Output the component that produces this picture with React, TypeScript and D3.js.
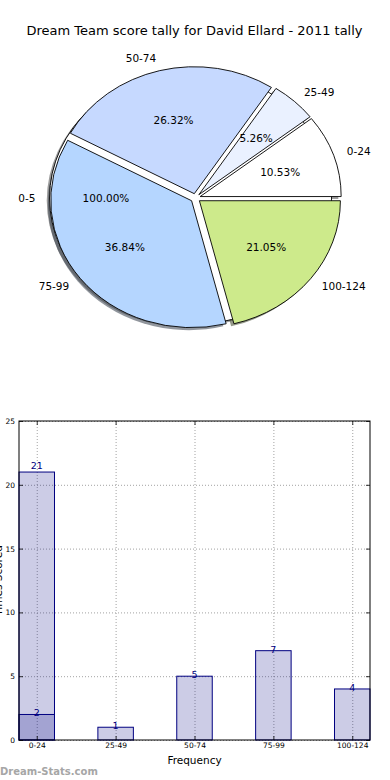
import { useEffect, useRef } from 'react'
import * as d3 from 'd3'

const title = 'Dream Team score tally for David Ellard - 2011 tally'
const categories = ['0-24', '25-49', '50-74', '75-99', '100-124']
const counts = [2, 1, 5, 7, 4]
const sliceColors = ['#ffffff', '#eaf1ff', '#c6d9ff', '#b5d6ff', '#cdea8b']
const fullPieLabels = ['0-5']
const fullPieValues = [1]
const fullPieColors = ['#ffffff']
const extraBarCategories = ['0-24']
const extraBarValues = [21]
const yTicks = [0, 5, 10, 15, 20, 25]
const xLabel = 'Frequency'
const yLabel = 'Times Scored'
const watermark = 'Dream-Stats.com'

const FONT = 'DejaVu Sans, sans-serif'

export default function App() {
  const svgRef = useRef<SVGSVGElement>(null)

  useEffect(() => {
    if (!svgRef.current) return
    const svg = d3.select(svgRef.current)
    svg.selectAll('*').remove()

    svg.append('rect').attr('width', 390).attr('height', 780).attr('fill', '#fff')

    svg.append('text')
      .attr('x', 194.5)
      .attr('y', 34.5)
      .attr('text-anchor', 'middle')
      .attr('font-size', 13)
      .attr('fill', '#000')
      .text(title)

    // ---- pie (elliptical, like matplotlib without equal aspect) ----
    const cx = 195.5
    const cy = 198
    const rx = 141
    const ry = 127
    const explode = 0.035

    const pie = d3.pie<number>()
      .sort(null)
      .startAngle(Math.PI / 2)
      .endAngle(Math.PI / 2 - 2 * Math.PI)
    const unitArc = d3.arc<d3.PieArcDatum<number>>().innerRadius(0).outerRadius(1)

    type Slice = { arc: d3.PieArcDatum<number>; color: string; label: string; pct: string; ox: number; oy: number; mid: number }
    const makeSlices = (values: number[], colors: string[], labels: string[]): Slice[] => {
      const total = d3.sum(values)
      return pie(values).map((a, i) => {
        const mid = (a.startAngle + a.endAngle) / 2
        return {
          arc: a,
          color: colors[i],
          label: labels[i],
          pct: d3.format('.2f')((a.value / total) * 100) + '%',
          ox: explode * rx * Math.sin(mid),
          oy: -explode * ry * Math.cos(mid),
          mid
        }
      })
    }

    const fullSlices = makeSlices(fullPieValues, fullPieColors, fullPieLabels)
    const slices = makeSlices(counts, sliceColors, categories)
    const all = [...fullSlices, ...slices]

    const pg = svg.append('g').attr('transform', `translate(${cx},${cy})`)

    // shadows underneath everything
    all.forEach(s => {
      const c = d3.rgb(s.color)
      pg.append('path')
        .attr('transform', `translate(${s.ox - 0.02 * rx},${s.oy + 0.02 * ry}) scale(${rx},${ry})`)
        .attr('d', unitArc(s.arc))
        .attr('fill', d3.rgb(c.r * 0.3, c.g * 0.3, c.b * 0.3).toString())
        .attr('fill-opacity', 0.55)
    })

    all.forEach(s => {
      pg.append('path')
        .attr('transform', `translate(${s.ox},${s.oy}) scale(${rx},${ry})`)
        .attr('d', unitArc(s.arc))
        .attr('fill', s.color)
        .attr('stroke', '#000')
        .attr('stroke-width', 0.9)
        .attr('stroke-linejoin', 'round')
        .attr('vector-effect', 'non-scaling-stroke')
    })

    all.forEach(s => {
      const sx = Math.sin(s.mid)
      const sy = -Math.cos(s.mid)
      const lx = s.ox + 1.1 * rx * sx
      pg.append('text')
        .attr('x', lx)
        .attr('y', s.oy + 1.1 * ry * sy)
        .attr('dy', '0.35em')
        .attr('text-anchor', lx > 0 ? 'start' : 'end')
        .attr('font-size', 10.5)
        .text(s.label)
      pg.append('text')
        .attr('x', s.ox + 0.6 * rx * sx)
        .attr('y', s.oy + 0.6 * ry * sy)
        .attr('dy', '0.35em')
        .attr('text-anchor', 'middle')
        .attr('font-size', 10.5)
        .text(s.pct)
    })

    // ---- bar chart ----
    const plot = { left: 19, top: 421, right: 370, bottom: 740 }
    const barWidth = 0.45
    const x = d3.scalePoint<string>()
      .domain(categories)
      .range([plot.left, plot.right])
      .padding(barWidth / 2)
    const bw = x.step() * barWidth
    const y = d3.scaleLinear().domain([0, 25]).range([plot.bottom, plot.top])
    const pw = plot.right - plot.left
    const ph = plot.bottom - plot.top

    const styleGrid = (g: d3.Selection<SVGGElement, unknown, null, undefined>) => {
      g.select('.domain').remove()
      g.selectAll('.tick line')
        .attr('stroke', '#8a8a8a')
        .attr('stroke-width', 0.8)
        .attr('stroke-dasharray', '1,2')
    }

    svg.append('g')
      .attr('transform', `translate(${plot.left},0)`)
      .call(d3.axisLeft(y).tickValues(yTicks).tickSize(-pw).tickFormat(() => ''))
      .call(styleGrid)
    svg.append('g')
      .attr('transform', `translate(0,${plot.bottom})`)
      .call(d3.axisBottom(x).tickSize(-ph).tickFormat(() => ''))
      .call(styleGrid)

    const bars = svg.append('g')
    const drawBars = (cats: string[], vals: number[], labelGap: number) => {
      cats.forEach((c, i) => {
        const v = vals[i]
        bars.append('rect')
          .attr('x', (x(c) as number) - bw / 2)
          .attr('y', y(v))
          .attr('width', bw)
          .attr('height', y(0) - y(v))
          .attr('fill', 'navy')
          .attr('fill-opacity', 0.2)
          .attr('stroke', 'navy')
          .attr('stroke-width', 1)
        bars.append('text')
          .attr('x', x(c) as number)
          .attr('y', y(v) + labelGap)
          .attr('text-anchor', 'middle')
          .attr('font-size', 9.5)
          .attr('fill', 'navy')
          .text(v)
      })
    }
    drawBars(extraBarCategories, extraBarValues, -3)
    drawBars(categories, counts, 2)

    const styleAxis = (g: d3.Selection<SVGGElement, unknown, null, undefined>) => {
      g.select('.domain').remove()
      g.selectAll('.tick line').attr('stroke', '#000').attr('stroke-width', 0.8)
      g.selectAll('.tick text').attr('fill', '#000').attr('font-family', FONT).attr('font-size', 7.5)
    }

    svg.append('g')
      .attr('transform', `translate(${plot.left},0)`)
      .call(d3.axisLeft(y).tickValues(yTicks).tickSize(-4).tickPadding(4))
      .call(styleAxis)
    svg.append('g')
      .attr('transform', `translate(${plot.right},0)`)
      .call(d3.axisRight(y).tickValues(yTicks).tickSize(-4).tickFormat(() => ''))
      .call(styleAxis)
    svg.append('g')
      .attr('transform', `translate(0,${plot.bottom})`)
      .call(d3.axisBottom(x).tickSize(-4).tickPadding(3))
      .call(styleAxis)
    svg.append('g')
      .attr('transform', `translate(0,${plot.top})`)
      .call(d3.axisTop(x).tickSize(-4).tickFormat(() => ''))
      .call(styleAxis)

    svg.append('rect')
      .attr('x', plot.left)
      .attr('y', plot.top)
      .attr('width', pw)
      .attr('height', ph)
      .attr('fill', 'none')
      .attr('stroke', '#000')
      .attr('stroke-width', 1)

    svg.append('text')
      .attr('x', (plot.left + plot.right) / 2)
      .attr('y', 764)
      .attr('text-anchor', 'middle')
      .attr('font-size', 10.5)
      .text(xLabel)

    svg.append('text')
      .attr('transform', `translate(1.5,${(plot.top + plot.bottom) / 2}) rotate(-90)`)
      .attr('text-anchor', 'middle')
      .attr('font-size', 10.5)
      .text(yLabel)

    svg.append('text')
      .attr('x', 0)
      .attr('y', 775)
      .attr('font-size', 10)
      .attr('font-weight', 'bold')
      .attr('fill', '#a6a6a6')
      .text(watermark)
  }, [])

  return (
    <div style={{ position: 'absolute', left: 0, top: 0 }}>
      <svg ref={svgRef} width={390} height={780} style={{ display: 'block', fontFamily: FONT }} />
    </div>
  )
}
